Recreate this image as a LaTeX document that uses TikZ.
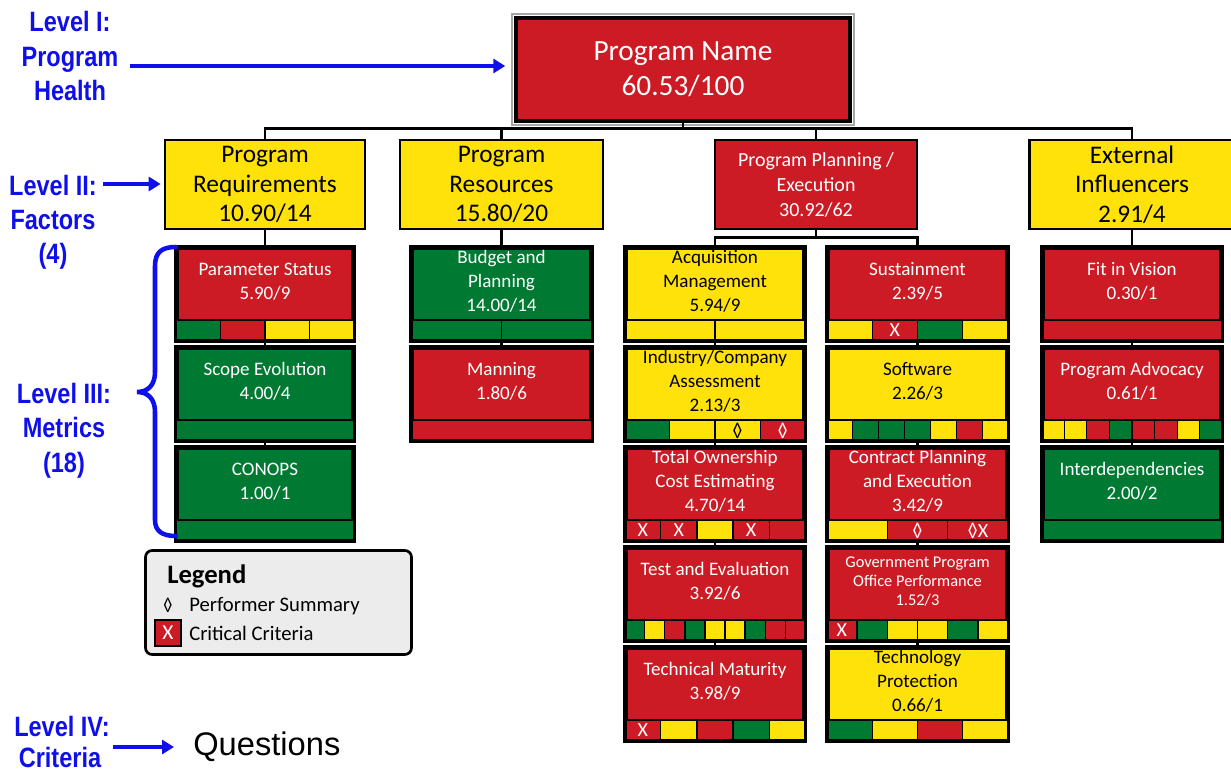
\documentclass[tikz,border=0pt]{standalone}
\usepackage{fontspec}
\setmainfont{Carlito}
\newfontfamily\lblfont{Liberation Sans}[FakeStretch=0.84]
\newfontfamily\arialfont{Liberation Sans}
\usetikzlibrary{calc,arrows.meta}

\definecolor{Rd}{RGB}{204,27,36}
\definecolor{Gn}{RGB}{0,122,51}
\definecolor{Yl}{RGB}{255,226,10}
\definecolor{lvlblue}{RGB}{15,15,235}
\definecolor{legendgray}{RGB}{236,236,236}

% marks shown inside the criteria cells
\newcommand\Xw{\textcolor{white}{X}}
\newcommand\Dw{\textcolor{white}{◊}}
\newcommand\Db{\textcolor{black}{◊}}

\tikzset{
  mbox/.style={draw=black, line width=2.6pt, minimum height=68.25pt, inner sep=0pt},
  mframe/.style={draw=black, line width=2.6pt},
  mcell/.style={draw=black, line width=0.9pt},
  mtext/.style={align=center, inner sep=0pt, font=\fontsize{14.3pt}{17.8pt}\selectfont},
  mmark/.style={inner sep=0pt, font=\fontsize{15pt}{17pt}\selectfont},
  factor/.style={draw=black, line width=2pt, align=center, inner sep=0pt,
    minimum height=66.75pt, font=\fontsize{19pt}{22.2pt}\selectfont},
  link/.style={draw=black, line width=1.9pt},
  lvl/.style={text=lvlblue, inner sep=0pt, anchor=base,
    font=\lblfont\bfseries\fontsize{21pt}{26pt}\selectfont},
  larrow/.style={draw=lvlblue, line width=3pt, -{Triangle[length=9pt,width=10.5pt]}},
  legtext/.style={inner sep=0pt, anchor=base west, font=\fontsize{15.5pt}{18pt}\selectfont},
}

% #1 name, #2 centre x, #3 top y, #4 width, #5 fill, #6 text style, #7 text, #8 cells (fill/mark)
\newcommand\metricbox[8]{%
  \node[mbox, fill=#5, minimum width=#4, anchor=north] (#1) at (#2,#3) {};
  \foreach \cf [count=\cidx] in {#8} {\xdef\cellcount{\cidx}}%
  \foreach \cf/\cm [count=\ci] in {#8} {%
    \pgfmathsetmacro\fa{(\ci-1)/\cellcount}%
    \pgfmathsetmacro\fb{\ci/\cellcount}%
    \pgfmathsetmacro\fc{(\ci-0.5)/\cellcount}%
    \draw[mcell, fill=\cf] ($(#1.south west)!\fa!(#1.south east)+(0,-21)$)
      rectangle ($(#1.south west)!\fb!(#1.south east)$);
    \node[mmark] (#1-c\ci) at ($(#1.south west)!\fc!(#1.south east)+(0,-10.5)$) {\cm};
  }%
  \draw[mframe] (#1.north west) rectangle (#1.south east);
  \node[mtext, #6] (#1-t) at ($(#1.north)+(0,35)$) {#7};
}

\begin{document}
\begin{tikzpicture}[x=0.75pt, y=-0.75pt]
\useasboundingbox (0,0) rectangle (1231,773);

% ---------- Level I ----------
\node[draw=black, line width=2.6pt, fill=Rd, text=white, minimum width=250.5pt,
  minimum height=77.25pt, align=center, inner sep=0pt,
  font=\fontsize{22pt}{26.25pt}\selectfont] (top) at (683,69.5) {Program Name\\60.53/100};
\draw[gray!70, line width=1.2pt] ($(top.north west)+(-2.5,-2.5)$) rectangle ($(top.south east)+(2.5,2.5)$);

% ---------- Level II ----------
\node[factor, fill=Yl, minimum width=150pt] (preq) at (265,184.5) {Program\\Requirements\\10.90/14};
\node[factor, fill=Yl, minimum width=152.25pt] (pres) at (501.5,184.5) {Program\\Resources\\15.80/20};
\node[factor, fill=Rd, text=white, minimum width=151.5pt,
  font=\fontsize{15pt}{18.75pt}\selectfont] (ppe) at (816,184.5) {Program Planning /\\Execution\\30.92/62};
\node[factor, fill=Yl, minimum width=153.75pt] (ext) at (1132,184.5) {External\\Influencers\\2.91/4};

\coordinate (bus) at ($(top.south)+(0,6)$);
\draw[link] (top.south) -- (bus);
\draw[link] (preq.north) |- (bus) -| (ext.north);
\draw[link] (pres.north) -- (pres.north |- bus);
\draw[link] (ppe.north) -- (ppe.north |- bus);

% ---------- Level III ----------
% Program Requirements
\metricbox{ps}{265}{246.5}{132pt}{Rd}{text=white}{Parameter Status\\5.90/9}{Gn/{},Rd/{},Yl/{},Yl/{}}
\metricbox{se}{265}{346.5}{132pt}{Gn}{text=white}{Scope Evolution\\4.00/4}{Gn/{}}
\metricbox{co}{265}{446.5}{132pt}{Gn}{text=white}{CONOPS\\1.00/1}{Gn/{}}
% Program Resources
\metricbox{bp}{501.5}{246.5}{133.5pt}{Gn}{text=white}{Budget and\\Planning\\14.00/14}{Gn/{},Gn/{}}
\metricbox{mn}{501.5}{346.5}{133.5pt}{Rd}{text=white}{Manning\\1.80/6}{Rd/{}}
% Program Planning / Execution, left column
\metricbox{am}{715}{246.5}{132.75pt}{Yl}{text=black}{Acquisition\\Management\\5.94/9}{Yl/{},Yl/{}}
\metricbox{ic}{715}{346.5}{132.75pt}{Yl}{text=black}{Industry/Company\\Assessment\\2.13/3}{Gn/{},Yl/{},Yl/\Db,Rd/\Dw}
\metricbox{toc}{715}{446.5}{132.75pt}{Rd}{text=white}{Total Ownership\\Cost Estimating\\4.70/14}{Rd/\Xw,Rd/\Xw,Yl/{},Rd/\Xw,Rd/{}}
\metricbox{te}{715}{546.5}{132.75pt}{Rd}{text=white}{Test and Evaluation\\3.92/6}{Gn/{},Yl/{},Rd/{},Gn/{},Yl/{},Yl/{},Gn/{},Rd/{},Rd/{}}
\metricbox{tm}{715}{646.5}{132.75pt}{Rd}{text=white}{Technical Maturity\\3.98/9}{Rd/\Xw,Yl/{},Rd/{},Gn/{},Yl/{}}
% Program Planning / Execution, right column
\metricbox{su}{917.5}{246.5}{133.5pt}{Rd}{text=white}{Sustainment\\2.39/5}{Yl/{},Rd/\Xw,Gn/{},Yl/{}}
\metricbox{sw}{917.5}{346.5}{133.5pt}{Yl}{text=black}{Software\\2.26/3}{Yl/{},Gn/{},Gn/{},Gn/{},Yl/{},Rd/{},Yl/{}}
\metricbox{cp}{917.5}{446.5}{133.5pt}{Rd}{text=white}{Contract Planning\\and Execution\\3.42/9}{Yl/{},Rd/\Dw,Rd/\Dw\Xw}
\metricbox{gp}{917.5}{546.5}{133.5pt}{Rd}{text=white, font=\fontsize{12.3pt}{14.6pt}\selectfont}{Government Program\\Office Performance\\1.52/3}{Rd/\Xw,Gn/{},Yl/{},Yl/{},Gn/{},Yl/{}}
\metricbox{tp}{917.5}{646.5}{133.5pt}{Yl}{text=black}{Technology\\Protection\\0.66/1}{Gn/{},Yl/{},Rd/{},Yl/{}}
% External Influencers
\metricbox{fv}{1132}{246.5}{132.75pt}{Rd}{text=white}{Fit in Vision\\0.30/1}{Rd/{}}
\metricbox{pa}{1132}{346.5}{132.75pt}{Rd}{text=white}{Program Advocacy\\0.61/1}{Yl/{},Yl/{},Rd/{},Gn/{},Rd/{},Rd/{},Yl/{},Gn/{}}
\metricbox{id}{1132}{446.5}{132.75pt}{Gn}{text=white}{Interdependencies\\2.00/2}{Gn/{}}

% connectors between factors and metrics
\draw[link] (preq.south) -- (ps.north);
\draw[link] (ps.south) -- (se.north);
\draw[link] (se.south) -- (co.north);
\draw[link] (pres.south) -- (bp.north);
\draw[link] (bp.south) -- (mn.north);
\coordinate (split) at ($(ppe.south)+(0,7)$);
\draw[link] (ppe.south) -- (split);
\draw[link] (am.north) |- (split) -| (su.north);
\draw[link] (am.south) -- (ic.north);
\draw[link] (ic.south) -- (toc.north);
\draw[link] (toc.south) -- (te.north);
\draw[link] (te.south) -- (tm.north);
\draw[link] (su.south) -- (sw.north);
\draw[link] (sw.south) -- (cp.north);
\draw[link] (cp.south) -- (gp.north);
\draw[link] (gp.south) -- (tp.north);
\draw[link] (ext.south) -- (fv.north);
\draw[link] (fv.south) -- (pa.north);
\draw[link] (pa.south) -- (id.north);

% ---------- Legend ----------
\node[draw=black, line width=2pt, rounded corners=5pt, fill=legendgray,
  minimum width=199.5pt, minimum height=78pt, inner sep=0pt] (legend) at (278.5,602.5) {};
\node[inner sep=0pt, anchor=base west, font=\bfseries\fontsize{20pt}{24pt}\selectfont]
  (legend-title) at (167,583) {Legend};
\node[inner sep=0pt, anchor=base, font=\fontsize{14pt}{16pt}\selectfont] (legend-diamond) at (168,611) {◊};
\node[legtext] (legend-perf) at (189,611) {Performer Summary};
\node[draw=black, line width=0.8pt, fill=Rd, text=white, minimum size=19.5pt, inner sep=0pt,
  font=\fontsize{16pt}{18pt}\selectfont] (legend-x) at (168,633) {X};
\node[legtext] (legend-crit) at (189,640) {Critical Criteria};

% ---------- level labels ----------
\node[lvl] (lvl1a) at (70,32) {Level I:};
\node[lvl] (lvl1b) at (70,67) {Program};
\node[lvl] (lvl1c) at (70,101) {Health};
\draw[larrow] ($(lvl1b.base east)+(11,-1)$) -- ($(top.west |- lvl1b.base)+(-9,-1)$);

\node[lvl] (lvl2a) at (53,196) {Level II:};
\node[lvl] (lvl2b) at (53,230) {Factors};
\node[lvl] (lvl2c) at (53,264) {(4)};
\draw[larrow] ($(lvl2a.base east)+(6,-12)$) -- ($(preq.west |- lvl2a.base)+(-3,-12)$);

\node[lvl] (lvl3a) at (64,403) {Level III:};
\node[lvl] (lvl3b) at (64,437) {Metrics};
\node[lvl] (lvl3c) at (64,472) {(18)};
\draw[lvlblue, line width=3.4pt, line cap=round]
  (176,247) .. controls (162,247) and (155,252) .. (155,266)
  -- (155,372) .. controls (155,385) and (148,392) .. (137,392)
  .. controls (148,392) and (155,399) .. (155,412)
  -- (155,520) .. controls (155,531) and (162,536) .. (176,536);

\node[lvl] (lvl4a) at (62,736) {Level IV:};
\node[lvl] (lvl4b) at (60,767) {Criteria};
\node[inner sep=0pt, anchor=west, font=\arialfont\fontsize{24.5pt}{28pt}\selectfont]
  (quest) at (193,747) {Questions};
\draw[larrow] ($(lvl4a.base east)+(3,11)$) -- ($(quest.west)+(-19,0)$);

\end{tikzpicture}
\end{document}
